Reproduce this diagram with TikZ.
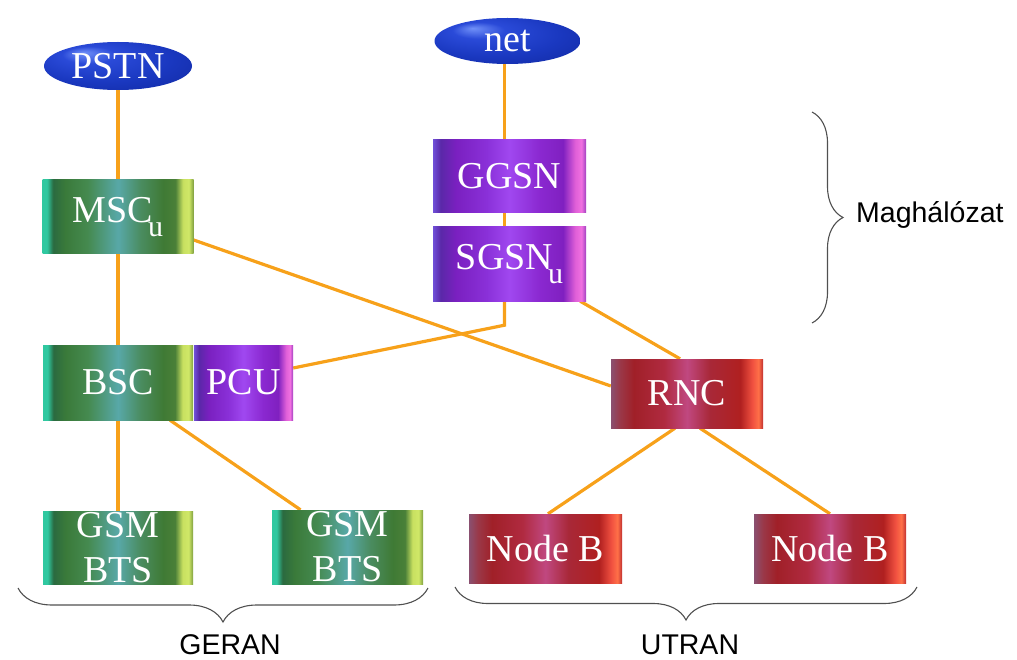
\documentclass[tikz,border=0pt]{standalone}
\usepackage{fontspec}
\setmainfont{Liberation Serif}
\newfontfamily\arialf{Liberation Sans}
\usetikzlibrary{decorations.pathreplacing,backgrounds,shapes.geometric,calc}

\definecolor{lineorange}{HTML}{F7A11A}
\definecolor{bracegray}{HTML}{505050}
% green metal
\definecolor{ga}{HTML}{30C8A0}\definecolor{gb}{HTML}{2A6A40}\definecolor{gc}{HTML}{3A7A3A}
\definecolor{gd}{HTML}{458A50}\definecolor{ge}{HTML}{58A8A8}\definecolor{gf}{HTML}{4A8C60}
\definecolor{gg}{HTML}{3F7A35}\definecolor{gh}{HTML}{4A8038}\definecolor{gi}{HTML}{C8E060}
\definecolor{gj}{HTML}{D0E868}\definecolor{gk}{HTML}{80A040}
% purple metal
\definecolor{pa}{HTML}{7050D8}\definecolor{pb}{HTML}{5A28A8}\definecolor{pc}{HTML}{7A20C0}
\definecolor{pd}{HTML}{8A30D8}\definecolor{pe}{HTML}{A048F0}\definecolor{pf}{HTML}{8A28D0}
\definecolor{pg}{HTML}{8020C0}\definecolor{ph}{HTML}{E060D8}\definecolor{pi}{HTML}{F070E0}
\definecolor{pj}{HTML}{A040C0}
% red metal
\definecolor{ra}{HTML}{8A5070}\definecolor{rb}{HTML}{9A3848}\definecolor{rc}{HTML}{A02028}
\definecolor{rd}{HTML}{B02A40}\definecolor{re}{HTML}{C04880}\definecolor{rf}{HTML}{A82838}
\definecolor{rg}{HTML}{B02020}\definecolor{rh}{HTML}{F05040}\definecolor{ri}{HTML}{FF7048}
\definecolor{rj}{HTML}{C03030}
% blue
\definecolor{ba}{HTML}{7090F8}\definecolor{bb}{HTML}{2A4AD8}\definecolor{bc}{HTML}{1A38C0}
\definecolor{bd}{HTML}{0C2090}

\pgfdeclarehorizontalshading{greenmetal}{100bp}{color(0bp)=(ga); color(25bp)=(ga);
 color(26.5bp)=(ga); color(28.5bp)=(gb); color(32.5bp)=(gc); color(40bp)=(gd);
 color(50bp)=(ge); color(57.5bp)=(gf); color(65bp)=(gg); color(69bp)=(gh);
 color(71.5bp)=(gi); color(73.5bp)=(gj); color(75bp)=(gk); color(100bp)=(gk)}
\pgfdeclarehorizontalshading{purplemetal}{100bp}{color(0bp)=(pa); color(25bp)=(pa);
 color(27.5bp)=(pb); color(32.5bp)=(pc); color(42.5bp)=(pd); color(50bp)=(pe);
 color(60bp)=(pf); color(67.5bp)=(pg); color(71.5bp)=(ph); color(73.5bp)=(pi);
 color(75bp)=(pj); color(100bp)=(pj)}
\pgfdeclarehorizontalshading{redmetal}{100bp}{color(0bp)=(ra); color(25bp)=(ra);
 color(28bp)=(rb); color(32.5bp)=(rc); color(42.5bp)=(rd); color(50bp)=(re);
 color(57.5bp)=(rf); color(67.5bp)=(rg); color(71.5bp)=(rh); color(73.5bp)=(ri);
 color(75bp)=(rj); color(100bp)=(rj)}
\pgfdeclareradialshading{blueball}{\pgfpoint{-12bp}{14bp}}{color(0bp)=(ba);
 color(9bp)=(bb); color(24bp)=(bc); color(50bp)=(bd)}

\newcommand\subu{\kern-5pt\raisebox{-14pt}{\fontsize{30}{30}\selectfont u}}

\begin{document}
\begin{tikzpicture}[x=1pt,y=-1pt,
  conn/.style={draw=lineorange, line width=3.2pt},
  box/.style={shade, inner sep=0pt, text=white, font=\fontsize{38}{45}\selectfont},
  gbox/.style={box, shading=greenmetal},
  pbox/.style={box, shading=purplemetal},
  rbox/.style={box, shading=redmetal},
  cloud/.style={ellipse, shade, shading=blueball, inner sep=0pt, text=white,
     font=\fontsize{38}{45}\selectfont},
  lbl/.style={text=white, inner sep=0pt, align=center, font=\fontsize{38}{45}\selectfont},
  brc/.style={draw=bracegray, line width=1.1pt, decorate, decoration={brace, amplitude=#1}},
  sans/.style={font=\arialf\fontsize{28.5}{33}\selectfont, text=black, inner sep=0pt}
]
\useasboundingbox (0,0) rectangle (1017,660);

% clouds
\node[cloud, minimum width=148, minimum height=48] (pstn) at (118,66) {PSTN};
\node[cloud, minimum width=146, minimum height=46] (net) at (507.5,41) {net};

% core
\node[gbox, minimum width=151, minimum height=74] (msc) at (118,217) {MSC\subu};
\node[pbox, minimum width=153, minimum height=73] (ggsn) at (509.5,176.5) {GGSN};
\node[pbox, minimum width=153, minimum height=74] (sgsn) at (509.5,264) {SGSN\subu};

% access
\node[gbox, minimum width=150, minimum height=75] (bsc) at (118,382.5) {BSC};
\node[pbox, minimum width=99, minimum height=75] (pcu) at (243.5,382.5) {PCU};
\node[rbox, minimum width=152, minimum height=69] (rnc) at (687,393.5) {RNC};

\node[gbox, minimum width=150, minimum height=73,
      label={[lbl]center:GSM\\BTS}] (bts1) at (118,547.5) {};
\node[gbox, minimum width=151, minimum height=74,
      label={[lbl]center:GSM\\BTS}] (bts2) at (347.5,547) {};
\node[rbox, minimum width=153, minimum height=69] (nb1) at (545.5,548.5) {Node B};
\node[rbox, minimum width=152, minimum height=69] (nb2) at (830,548.5) {Node B};

% connectors
\begin{scope}[on background layer]
\draw[conn] (pstn.south) -- (msc.north);
\draw[conn] (msc.south) -- (bsc.north);
\draw[conn] (bsc.south) -- (bts1.north);
\draw[conn] ([xshift=52]bsc.south) -- ([xshift=-47]bts2.north);
\draw[conn] ([yshift=-23]msc.east) -- ([yshift=7.5]rnc.west);
\draw[conn] ([xshift=-3]net.south) -- ([xshift=-5]ggsn.north);
\draw[conn] ([xshift=-5]ggsn.south) -- ([xshift=-5]sgsn.north);
\coordinate (bend) at ($([xshift=-5]sgsn.south)+(0,24)$);
\draw[conn] ([xshift=-5]sgsn.south) -- (bend) -- ([yshift=14.5]pcu.east);
\draw[conn] ([xshift=-6]sgsn.south east) -- ([xshift=-7]rnc.north);
\draw[conn] ([xshift=-12]rnc.south) -- ([xshift=2.5]nb1.north);
\draw[conn] ([xshift=13]rnc.south) -- (nb2.north);
\end{scope}

% braces
\coordinate (gL) at (18,588); \coordinate (gR) at (428,588);
\coordinate (uL) at (455,587); \coordinate (uR) at (917,587);
\coordinate (mT) at (812,112); \coordinate (mB) at (812,323);
\draw[brc=34] (gR) -- (gL);
\draw[brc=33] (uR) -- (uL);
\draw[brc=31] (mT) -- (mB);

\node[sans] (geran) at (230,645) {GERAN};
\node[sans] (utran) at (690,645) {UTRAN};
\node[sans, anchor=west] (mag) at (856,215) {Maghálózat};
\end{tikzpicture}
\end{document}
